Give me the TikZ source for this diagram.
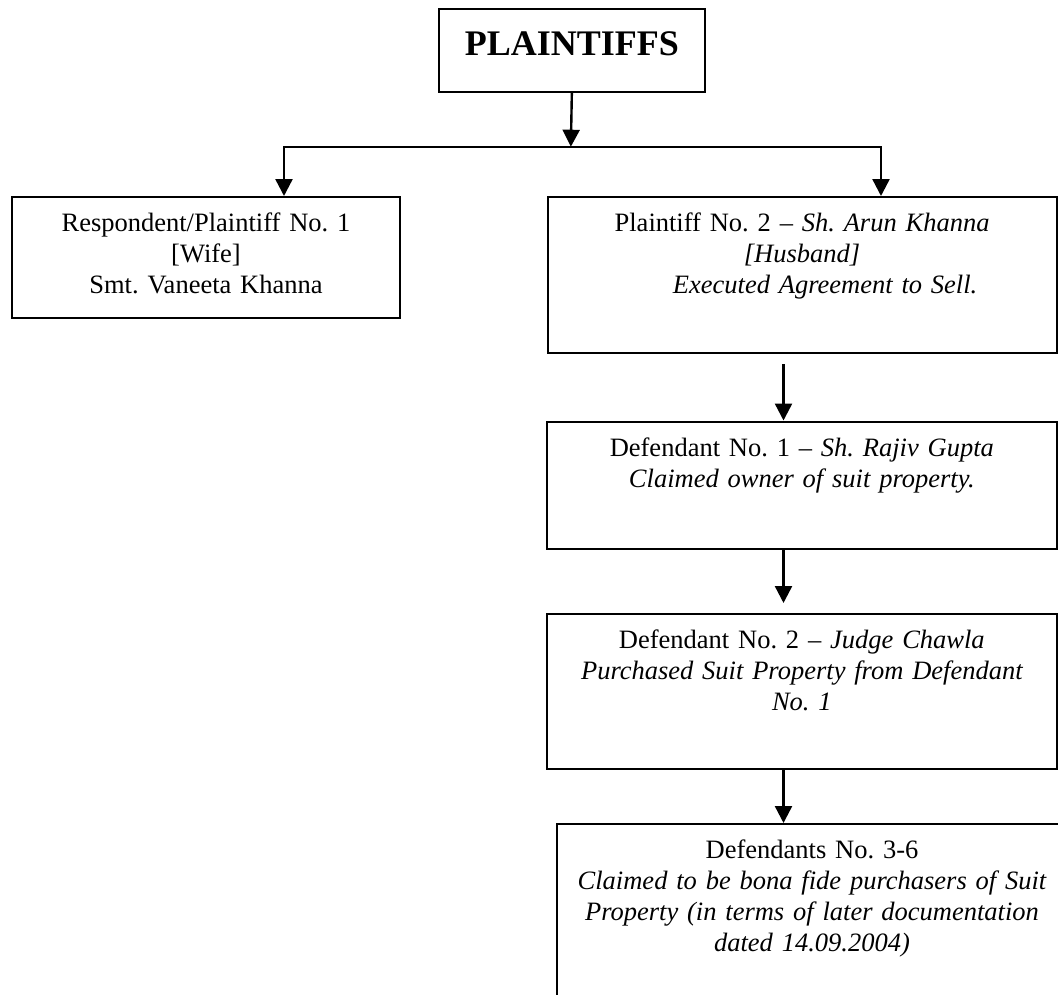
\documentclass[tikz,border=0pt]{standalone}
\usepackage{fontspec}
\setmainfont{Liberation Serif}
\usetikzlibrary{arrows.meta,calc}
\frenchspacing
\begin{document}
\begin{tikzpicture}[x=1pt,y=-1pt,
  box/.style={draw, line width=2pt, rectangle, inner sep=0pt, anchor=north west},
  txt/.style={font=\fontsize{26.5}{30.8}\selectfont, text width=500pt, align=center, inner sep=0pt, anchor=base},
  arr/.style={line width=2.4pt, line join=miter, -{Triangle[width=17pt,length=17pt]}}]
\useasboundingbox (0,0) rectangle (1058,994);
% boxes
\node[box, minimum width=266.3pt, minimum height=82.4pt] (pl) at (437.7,8.3) {};
\node[box, minimum width=388pt, minimum height=121.3pt] (r1) at (11,196) {};
\node[box, minimum width=509.2pt, minimum height=156pt] (p2) at (546.5,196) {};
\node[box, minimum width=509.7pt, minimum height=127.5pt] (d1) at (546,420.5) {};
\node[box, minimum width=509.7pt, minimum height=155pt] (d2) at (546,613) {};
\node[box, minimum width=510pt, minimum height=190pt] (d3) at (556,823) {};
% texts
\node[txt, font=\fontsize{36}{42}\selectfont\bfseries] (plt) at ($(pl.north)+(0,46.7)$) {PLAINTIFFS};
\node[txt] (r1t) at ($(r1.north)+(0,35.7)$) {Respondent/Plaintiff No. 1\\ \relax[Wife]\\ Smt. Vaneeta Khanna};
\node[txt] (p2t) at ($(p2.north)+(0,35.7)$) {Plaintiff No. 2 -- {\itshape Sh. Arun Khanna}\\ {\itshape [Husband]}\\ \hspace*{46pt}{\itshape Executed Agreement to Sell.}};
\node[txt] (d1t) at ($(d1.north)+(0,35.7)$) {Defendant No. 1 -- {\itshape Sh. Rajiv Gupta}\\ {\itshape Claimed owner of suit property.}};
\node[txt] (d2t) at ($(d2.north)+(0,35.7)$) {Defendant No. 2 -- {\itshape Judge Chawla}\\ {\itshape Purchased Suit Property from Defendant}\\ {\itshape No. 1}};
\node[txt] (d3t) at ($(d3.north)+(0,35.7)$) {Defendants No. 3-6\\ {\itshape Claimed to be bona fide purchasers of Suit}\\ {\itshape Property (in terms of later documentation}\\ {\itshape dated 14.09.2004)}};
% connectors
\coordinate (br) at (570.85,146.7);
\coordinate (bl) at (284,146.7);
\coordinate (bri) at (881,146.7);
\coordinate (cx) at (783.5,0);
\draw[arr] (pl.south) -- (br);
\draw[arr] (bri) -- (bl) -- (r1.north -| bl);
\draw[arr] (bl) -- (bri) -- (p2.north -| bri);
\draw[arr] ($(p2.south -| cx)+(0,10)$) -- (d1.north -| cx);
\draw[arr] (d1.south -| cx) -- ($(d2.north -| cx)+(0,-10)$);
\draw[arr] (d2.south -| cx) -- (d3.north -| cx);
\end{tikzpicture}
\end{document}
